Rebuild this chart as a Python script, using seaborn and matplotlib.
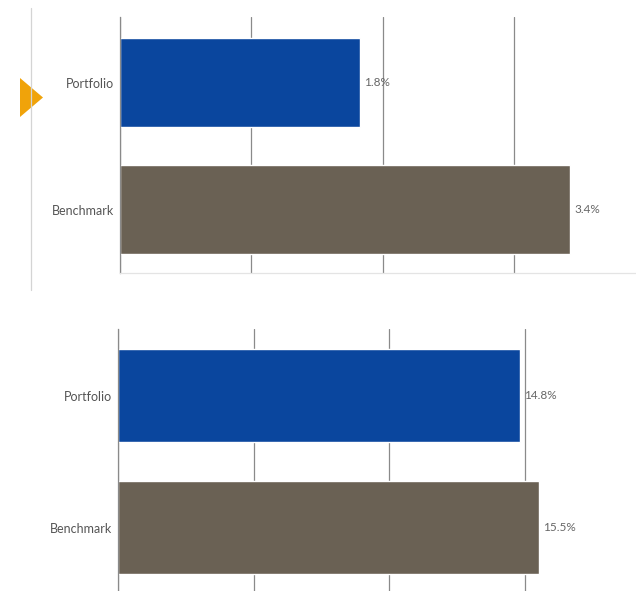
#
#   portfolio vs benchmark return bars, two stacked panels
#

import matplotlib.pyplot as plt
from matplotlib.lines import Line2D
from matplotlib.patches import Polygon
import pandas as pd
import seaborn as sns

categories = ["Portfolio", "Benchmark"]
top_values = [1.83, 3.43]
bottom_values = [14.8, 15.5]
top_ticks = [0, 1, 2, 3]
bottom_ticks = [0, 5, 10, 15]
bar_colors = ["#0a469e", "#6a6154"]

sns.set_style("white")
plt.rcParams['font.family'] = ['Lato', 'DejaVu Sans']

W, H = 636, 591
fig = plt.figure(figsize=(W / 100, H / 100), dpi=100)


def px_axes(left, top, right, bottom):
    return fig.add_axes([left / W, 1 - bottom / H, (right - left) / W, (bottom - top) / H])


def draw_panel(ax, values, ticks, xmax, ylim, bottom_line):
    df = pd.DataFrame({"name": categories, "value": values})
    sns.barplot(data=df, x="value", y="name", hue="name", palette=bar_colors,
                width=0.7, saturation=1, legend=False, ax=ax)
    ax.set_xlim(0, xmax)
    ax.set_ylim(*ylim)
    ax.set_xticks(ticks)
    ax.set_xticklabels([])
    ax.set(xlabel="", ylabel="")
    ax.grid(axis="x", color="#8a8a8a", linewidth=0.9)
    ax.grid(axis="y", visible=False)
    ax.set_axisbelow(True)
    ax.tick_params(axis="both", length=0)
    ax.tick_params(axis="y", pad=4, labelsize=9, labelcolor="#555555")
    for side in ["top", "right"]:
        ax.spines[side].set_visible(False)
    ax.spines["left"].set_color("#8a8a8a")
    ax.spines["left"].set_linewidth(0.9)
    if bottom_line:
        ax.spines["bottom"].set_color("#e4e4e4")
        ax.spines["bottom"].set_linewidth(0.9)
    else:
        ax.spines["bottom"].set_visible(False)
    for c in ax.containers:
        ax.bar_label(c, fmt="{:.1f}%", padding=3, fontsize=8.5, color="#666666")


ax_top = px_axes(120, 17, 636, 273)
draw_panel(ax_top, top_values, top_ticks, 3.93, (1.5, -0.516), True)

ax_bot = px_axes(118, 329, 636, 591)
draw_panel(ax_bot, bottom_values, bottom_ticks, 19.09, (1.48, -0.504), False)

# decoration: thin left rule and orange pointer next to the top panel
fig.add_artist(Line2D([31 / W, 31 / W], [1 - 8 / H, 1 - 290 / H], color="#d4d4d4", linewidth=0.9))
tri = [(20 / W, 1 - 78 / H), (20 / W, 1 - 117 / H), (43 / W, 1 - 97.5 / H)]
fig.add_artist(Polygon(tri, closed=True, facecolor="#f0a30a", edgecolor="none"))

fig.savefig("out.png", dpi=100)
